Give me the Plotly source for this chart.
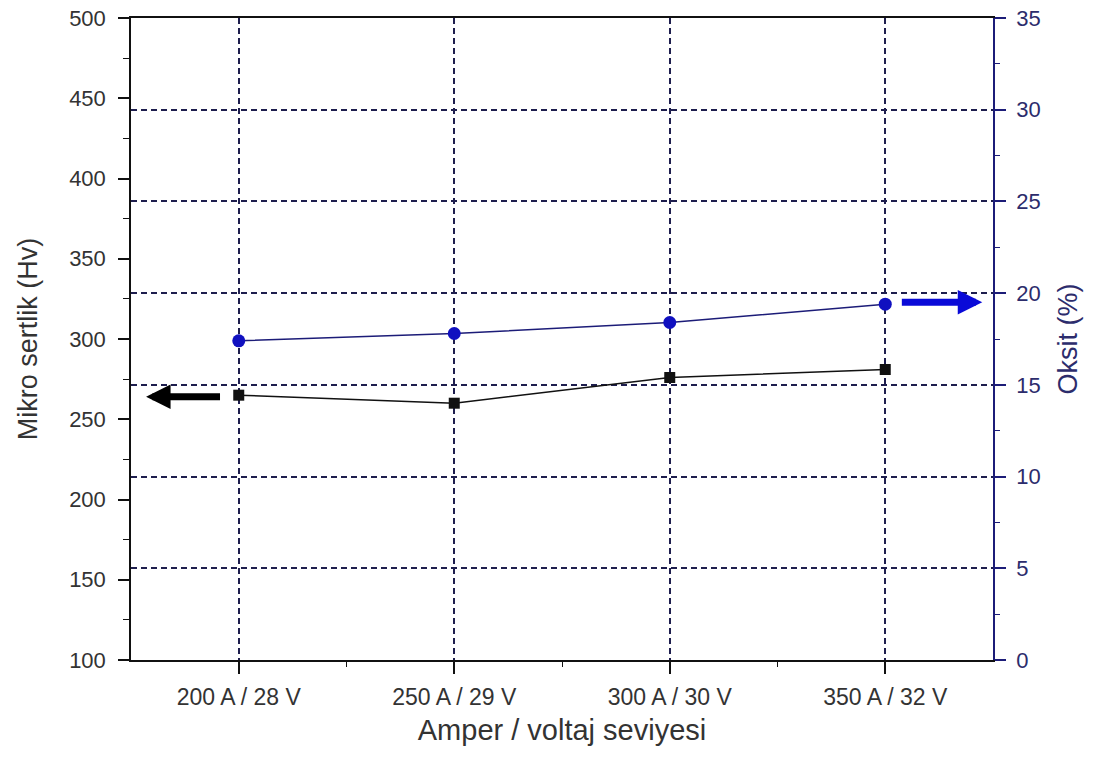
import plotly.graph_objects as go

# Welding current / voltage levels
levels = ["200 A / 28 V", "250 A / 29 V", "300 A / 30 V", "350 A / 32 V"]
# Microhardness (Hv) - left axis
hardness = [265, 260, 276, 281]
# Oxide content (%) - right axis
oxide = [17.4, 17.8, 18.4, 19.4]

left_ticks = [100, 150, 200, 250, 300, 350, 400, 450, 500]
right_ticks = [0, 5, 10, 15, 20, 25, 30, 35]

xpos = list(range(len(levels)))

FONT = "Liberation Sans, Arial, sans-serif"
NAVY = "#1c1c78"
GRID = "#1e1e4e"
TXT = "#333333"
DASH = "6px,4px"

fig = go.Figure()

fig.add_trace(go.Scatter(
    x=xpos, y=hardness, mode="lines+markers", yaxis="y",
    line=dict(color="#111111", width=1.5),
    marker=dict(symbol="square", size=11, color="#111111"),
    showlegend=False,
))
fig.add_trace(go.Scatter(
    x=xpos, y=oxide, mode="lines+markers", yaxis="y2",
    line=dict(color=NAVY, width=1.5),
    marker=dict(symbol="circle", size=13, color="#1010c0"),
    showlegend=False,
))

# Arrows pointing each series to its own axis
fig.add_annotation(
    x=-0.43, y=264, ax=-0.08, ay=264, xref="x", yref="y", axref="x", ayref="y",
    text="", showarrow=True, arrowhead=2, arrowsize=0.7, arrowwidth=7,
    arrowcolor="#000000",
)
fig.add_annotation(
    x=3.45, y=19.5, ax=3.07, ay=19.5, xref="x", yref="y2", axref="x", ayref="y2",
    text="", showarrow=True, arrowhead=2, arrowsize=0.7, arrowwidth=7,
    arrowcolor="#0a0ad8",
)

fig.update_layout(
    width=1095, height=758,
    margin=dict(l=131, r=102, t=18, b=98),
    paper_bgcolor="white", plot_bgcolor="white",
    font=dict(family=FONT, size=22, color=TXT),
    xaxis=dict(
        range=[-0.5, 3.5], tickvals=xpos, ticktext=levels, automargin=False,
        showline=True, linecolor="#111111", linewidth=1.5, mirror=True,
        ticks="outside", ticklen=12, tickwidth=1.5, tickcolor="#111111",
        minor=dict(tickvals=[0.5, 1.5, 2.5], ticks="outside", ticklen=5,
                   tickwidth=1.2, tickcolor="#111111", showgrid=False),
        showgrid=True, gridcolor=GRID, gridwidth=1.5, griddash=DASH,
        zeroline=False,
        tickfont=dict(size=23, color=TXT), ticklabelstandoff=4,
        title=dict(text="Amper / voltaj seviyesi", font=dict(size=29, color=TXT),
                   standoff=10),
    ),
    yaxis=dict(
        range=[100, 500], tickvals=left_ticks, automargin=False,
        showline=True, linecolor="#111111", linewidth=1.5,
        ticks="outside", ticklen=11, tickwidth=1.5, tickcolor="#111111",
        minor=dict(dtick=25, tick0=100, ticks="outside", ticklen=6,
                   tickwidth=1.2, tickcolor="#111111", showgrid=False),
        showgrid=False, zeroline=False,
        tickfont=dict(size=22, color=TXT), ticklabelstandoff=8,
        title=dict(text="Mikro sertlik (Hv)", font=dict(size=27, color=TXT),
                   standoff=24),
    ),
    yaxis2=dict(
        range=[0, 35], tickvals=right_ticks, overlaying="y", side="right",
        automargin=False,
        showline=True, linecolor=NAVY, linewidth=1.5,
        ticks="outside", ticklen=11, tickwidth=1.5, tickcolor=NAVY,
        minor=dict(dtick=2.5, tick0=0, ticks="outside", ticklen=5,
                   tickwidth=1.2, tickcolor=NAVY, showgrid=False),
        showgrid=True, gridcolor=GRID, gridwidth=1.5, griddash=DASH,
        zeroline=False,
        tickfont=dict(size=22, color="#2c2c6c"), ticklabelstandoff=6,
        title=dict(text="Oksit (%)", font=dict(size=27, color="#2c2c6c"),
                   standoff=18),
    ),
)

fig.write_html("out.html")
